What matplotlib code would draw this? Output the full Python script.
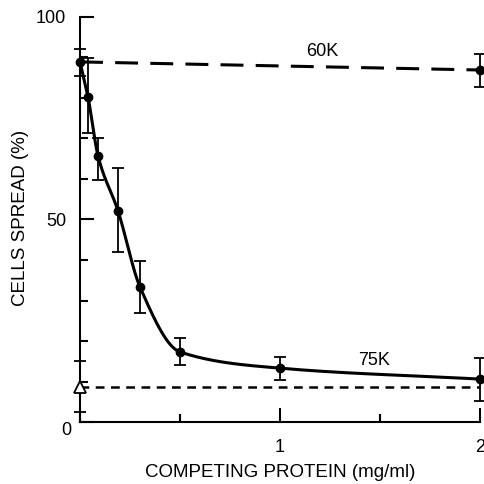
import numpy as np
import matplotlib
matplotlib.use('Agg')
import matplotlib.pyplot as plt
from matplotlib.ticker import MultipleLocator

plt.rcParams['font.family'] = ['Liberation Sans', 'DejaVu Sans']

# 75K competitor
x75 = [0.0, 0.04, 0.09, 0.19, 0.30, 0.50, 1.0, 2.0]
y75 = [88.9, 80.2, 65.7, 52.1, 33.3, 17.3, 13.3, 10.6]
err75_hi = [92.1, 89.8, 70.1, 62.7, 39.8, 20.8, 16.0, 15.8]
err75_lo = [85.4, 71.3, 59.8, 42.0, 26.9, 14.0, 10.4, 5.2]

# 60K competitor
x60 = [0.0, 2.0]
y60 = [88.9, 86.9]
err60_hi = [92.1, 90.9]
err60_lo = [85.4, 82.7]

# no-substrate baseline (triangle)
x_base = [0.0, 2.0]
y_base = [8.6, 8.6]
base_hi = 15.0
base_lo = 2.5


def pchip(x, y, xs):
    # monotone cubic through the measured points, just for drawing the line
    x = np.asarray(x, float); y = np.asarray(y, float)
    h = np.diff(x); d = np.diff(y) / h
    m = np.zeros_like(y)
    for k in range(1, len(x) - 1):
        if d[k-1] * d[k] > 0:
            w1 = 2*h[k] + h[k-1]; w2 = h[k] + 2*h[k-1]
            m[k] = (w1 + w2) / (w1/d[k-1] + w2/d[k])
    m[0] = d[0]; m[-1] = d[-1]
    i = np.clip(np.searchsorted(x, xs) - 1, 0, len(x) - 2)
    t = (xs - x[i]) / h[i]
    h00 = 2*t**3 - 3*t**2 + 1; h10 = t**3 - 2*t**2 + t
    h01 = -2*t**3 + 3*t**2; h11 = t**3 - t**2
    return h00*y[i] + h10*h[i]*m[i] + h01*y[i+1] + h11*h[i]*m[i+1]


fig = plt.figure(figsize=(4.85, 4.84), dpi=100)
ax = fig.add_axes([0.165, 0.128, 0.825, 0.837])

xs = np.linspace(x75[0], x75[-1], 600)
ax.plot(xs, pchip(x75, y75, xs), color='black', lw=2.2, clip_on=False)
ax.plot(x60, y60, color='black', lw=2.2, ls=(0, (7.5, 4)), clip_on=False)
ax.plot(x_base, y_base, color='black', lw=1.8, ls=(0, (3.5, 2.6)), clip_on=False)

ax.errorbar(x75, y75,
            yerr=[np.array(y75) - np.array(err75_lo), np.array(err75_hi) - np.array(y75)],
            fmt='o', color='black', ms=6, capsize=4, elinewidth=1.3, capthick=1.3,
            clip_on=False)
ax.errorbar(x60[1:], y60[1:],
            yerr=[[y60[1] - err60_lo[1]], [err60_hi[1] - y60[1]]],
            fmt='o', color='black', ms=6, capsize=4, elinewidth=1.3, capthick=1.3,
            clip_on=False)
ax.errorbar([x_base[0]], [y_base[0]], yerr=[[y_base[0] - base_lo], [base_hi - y_base[0]]],
            fmt='^', mfc='white', mec='black', mew=1.3, color='black', ms=8,
            capsize=4, elinewidth=1.3, capthick=1.3, clip_on=False, zorder=5)

ax.text(1.21, 91.4, '60K', fontsize=13, ha='center', va='center')
ax.text(1.47, 15.1, '75K', fontsize=13, ha='center', va='center')

ax.set_xlim(0, 2)
ax.set_ylim(0, 100)
for s in ('top', 'right'):
    ax.spines[s].set_visible(False)
for s in ('left', 'bottom'):
    ax.spines[s].set_linewidth(1.5)

ax.set_xticks([1, 2])
ax.set_xticklabels(['1', '2'])
ax.xaxis.set_minor_locator(MultipleLocator(0.5))
ax.set_yticks([0, 50, 100])
ax.yaxis.set_minor_locator(MultipleLocator(10))
ax.tick_params(which='both', direction='in', width=1.5, labelsize=13)
ax.tick_params(which='major', length=10)
ax.tick_params(which='minor', length=5.5)
ax.tick_params(axis='y', pad=10)
ax.tick_params(axis='x', pad=12)
ax.text(-0.045, 0, '0', transform=ax.transData, fontsize=13, ha='right', va='top')
ax.set_yticklabels(['', '50', '100'])

ax.set_xlabel('COMPETING PROTEIN (mg/ml)', fontsize=13.5, va='center')
ax.xaxis.set_label_coords(0.5, -0.125)
ax.set_ylabel('CELLS SPREAD (%)', fontsize=13.5, va='center')
ax.yaxis.set_label_coords(-0.15, 0.505)

fig.savefig('out.png', dpi=100)
